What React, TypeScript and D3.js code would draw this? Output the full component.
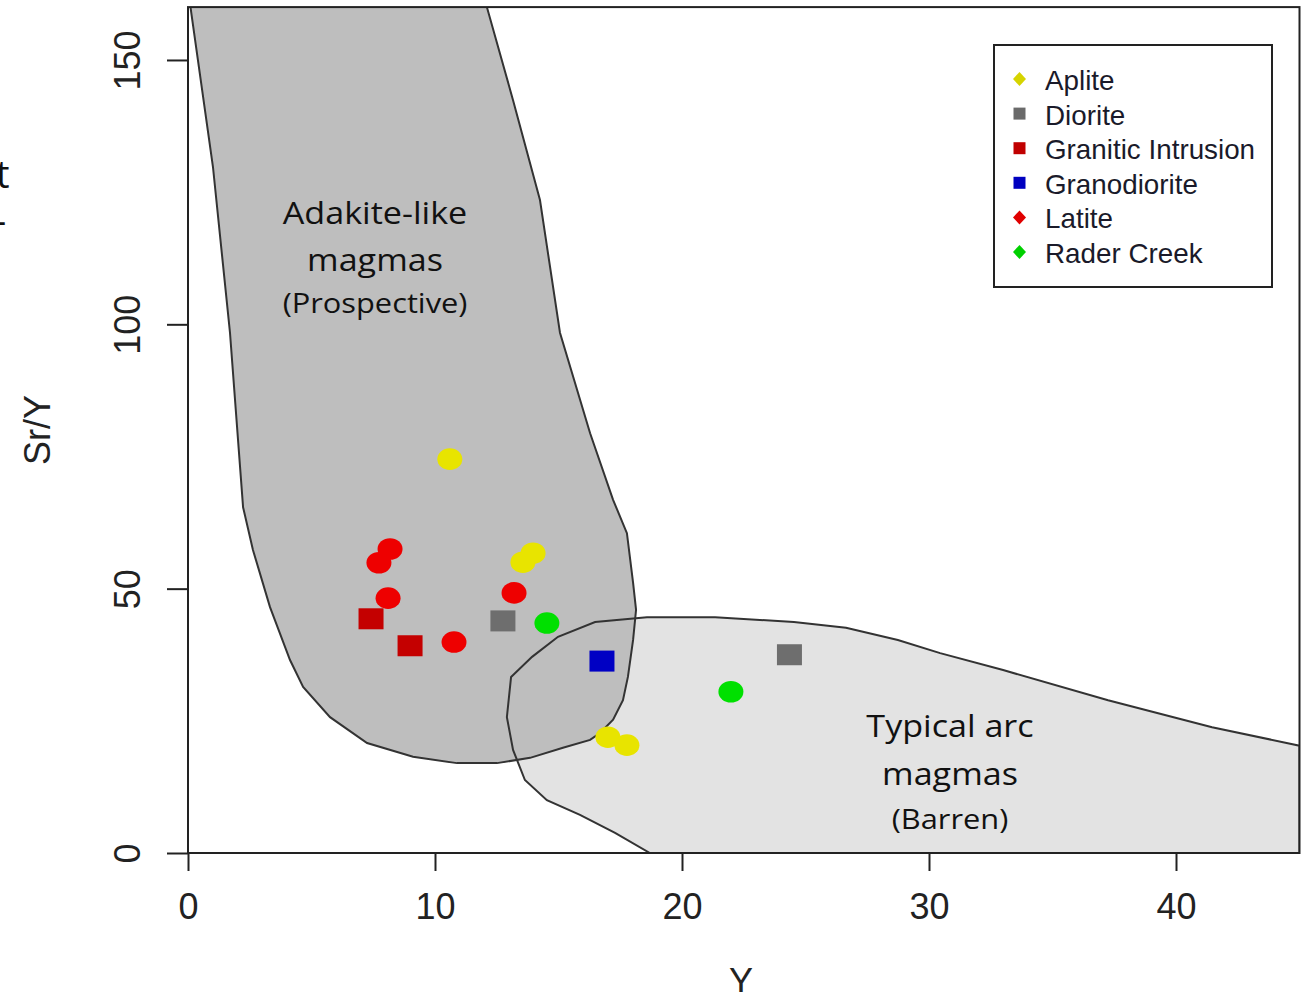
import React, { useEffect, useRef } from 'react';
import * as d3 from 'd3';

// Sr/Y vs Y discrimination diagram
const xTicks = [0, 10, 20, 30, 40];
const yTicks = [0, 50, 100, 150];

// field outlines (Y, Sr/Y)
const adakiteField = [
  [0.1, 160], [12.1, 160], [13.16, 142.4], [14.25, 123.5], [15.06, 98.4], [16.28, 79.4],
  [17.21, 66.8], [17.77, 60.5], [18.02, 51.1], [18.14, 46.0], [18.02, 40.3], [17.81, 33.3],
  [17.61, 28.9], [17.21, 25.2], [16.68, 22.7], [16.28, 21.4], [15.18, 19.9], [13.85, 18.0],
  [12.51, 17.0], [10.89, 17.0], [9.11, 18.2], [7.25, 20.8], [5.75, 25.7], [4.66, 31.4],
  [4.13, 36.5], [3.32, 46.5], [2.63, 57.3], [2.23, 65.4], [1.7, 98.4], [1.01, 129.8],
];
const arcField = [
  [13.08, 33.3], [13.93, 37.1], [14.98, 40.9], [16.48, 43.7], [18.58, 44.6], [21.34, 44.6],
  [24.53, 43.7], [26.64, 42.6], [28.74, 40.3], [30.45, 37.8], [33.0, 34.6], [37.25, 28.9],
  [41.46, 23.8], [45, 20.3], [45, 0], [18.7, 0], [17.29, 3.8], [15.87, 7.2], [14.53, 10.0],
  [13.64, 13.8], [13.16, 19.5], [12.91, 25.7],
];

// samples
const aplite = [[10.6, 74.5], [13.56, 55.0], [13.97, 56.7], [17.0, 21.9], [17.77, 20.4]];
const diorite = [[12.75, 43.9], [24.35, 37.5]];
const granitic = [[7.41, 44.3], [8.99, 39.2]];
const granodiorite = [[16.76, 36.3]];
const latite = [[7.73, 54.9], [8.18, 57.5], [8.1, 48.2], [13.2, 49.2], [10.77, 39.9]];
const raderCreek = [[14.53, 43.5], [21.98, 30.5]];

const series = [
  { name: 'Aplite', data: aplite, color: '#e8e400', legendColor: '#d6d400', shape: 'circle', key: 'diamond' },
  { name: 'Diorite', data: diorite, color: '#6e6e6e', legendColor: '#6a6a6a', shape: 'square', key: 'square' },
  { name: 'Granitic Intrusion', data: granitic, color: '#c40000', legendColor: '#c00000', shape: 'square', key: 'square' },
  { name: 'Granodiorite', data: granodiorite, color: '#0000c4', legendColor: '#0000c0', shape: 'square', key: 'square' },
  { name: 'Latite', data: latite, color: '#ee0000', legendColor: '#e00000', shape: 'circle', key: 'diamond' },
  { name: 'Rader Creek', data: raderCreek, color: '#00e000', legendColor: '#00d000', shape: 'circle', key: 'diamond' },
];

const App = () => {
  const ref = useRef<SVGSVGElement>(null);

  useEffect(() => {
    const svg = d3.select(ref.current);
    svg.selectAll('*').remove();

    const x = d3.scaleLinear().domain([0, 45]).range([188, 1299.5]);
    const y = d3.scaleLinear().domain([0, 160]).range([853, 7.1]);
    const axisFont = '"Liberation Sans", Arial, sans-serif';
    const labelFont = '"Open Sans", sans-serif';

    svg.append('defs').append('clipPath').attr('id', 'plotclip')
      .append('rect')
      .attr('x', x(0)).attr('y', y(160))
      .attr('width', x(45) - x(0)).attr('height', y(0) - y(160));

    const line = d3.line<number[]>().x(d => x(d[0])).y(d => y(d[1])).curve(d3.curveLinearClosed);

    const fields = svg.append('g').attr('clip-path', 'url(#plotclip)');
    fields.append('path').attr('d', line(arcField)).attr('fill', '#e3e3e3');
    fields.append('path').attr('d', line(adakiteField)).attr('fill', '#bebebe');
    fields.append('path').attr('d', line(arcField)).attr('fill', 'none').attr('stroke', '#333').attr('stroke-width', 2);
    fields.append('path').attr('d', line(adakiteField)).attr('fill', 'none').attr('stroke', '#333').attr('stroke-width', 2);

    // region labels (slightly wide, as in the source slide)
    const regionText = (cx: number, lines: [string, number, number][]) => {
      lines.forEach(([t, base, size]) => {
        svg.append('text').attr('transform', `translate(${cx},${base}) scale(1.1,1)`)
          .attr('text-anchor', 'middle').attr('font-family', labelFont)
          .attr('font-size', size).attr('fill', '#111').text(t);
      });
    };
    regionText(375, [['Adakite-like', 224, 31], ['magmas', 271, 31], ['(Prospective)', 313, 28]]);
    regionText(950, [['Typical arc', 737, 31], ['magmas', 785, 31], ['(Barren)', 829, 28]]);

    // points
    const pts = svg.append('g');
    series.forEach(s => {
      s.data.forEach(d => {
        if (s.shape === 'square') {
          pts.append('rect')
            .attr('x', x(d[0]) - 12.5).attr('y', y(d[1]) - 10.5)
            .attr('width', 25).attr('height', 21)
            .attr('fill', s.color);
        } else {
          pts.append('ellipse')
            .attr('cx', x(d[0])).attr('cy', y(d[1]))
            .attr('rx', 12.5).attr('ry', 10.8)
            .attr('fill', s.color);
        }
      });
    });

    // plot box
    svg.append('rect')
      .attr('x', x(0)).attr('y', y(160))
      .attr('width', x(45) - x(0)).attr('height', y(0) - y(160))
      .attr('fill', 'none').attr('stroke', '#222').attr('stroke-width', 2);

    // axes
    const gx = svg.append('g').attr('transform', `translate(0,${y(0)})`)
      .call(d3.axisBottom(x).tickValues(xTicks).tickSize(18).tickPadding(22).tickFormat(d3.format('d')));
    gx.select('.domain').remove();
    gx.selectAll('line').attr('stroke', '#222').attr('stroke-width', 2);
    gx.selectAll('text').attr('font-family', axisFont).attr('font-size', 36).attr('fill', '#222');

    const gy = svg.append('g').attr('transform', `translate(${x(0)},0)`)
      .call(d3.axisLeft(y).tickValues(yTicks).tickSize(21).tickFormat(d3.format('d')));
    gy.select('.domain').remove();
    gy.selectAll('line').attr('stroke', '#222').attr('stroke-width', 2);
    gy.selectAll('text')
      .attr('transform', 'rotate(-90)')
      .attr('x', 0).attr('y', -48).attr('dy', null)
      .attr('text-anchor', 'middle')
      .attr('font-family', axisFont).attr('font-size', 36).attr('fill', '#222');

    svg.append('text').attr('transform', 'translate(50,430) rotate(-90)')
      .attr('text-anchor', 'middle').attr('font-family', axisFont)
      .attr('font-size', 36).attr('fill', '#222').text('Sr/Y');
    svg.append('text').attr('x', 741).attr('y', 994)
      .attr('text-anchor', 'middle').attr('font-family', axisFont)
      .attr('font-size', 36).attr('fill', '#222').text('Y');

    // legend
    const lg = svg.append('g');
    lg.append('rect').attr('x', 994).attr('y', 45).attr('width', 278).attr('height', 242)
      .attr('fill', '#fff').attr('stroke', '#222').attr('stroke-width', 2);
    series.forEach((s, i) => {
      const base = 90 + i * 34.6;
      const cy = base - 11;
      if (s.key === 'square') {
        lg.append('rect').attr('x', 1013.5).attr('y', cy - 6).attr('width', 12).attr('height', 12).attr('fill', s.legendColor);
      } else {
        lg.append('path')
          .attr('d', `M${1019.5},${cy - 7}L${1026},${cy}L${1019.5},${cy + 7}L${1013},${cy}Z`)
          .attr('fill', s.legendColor);
      }
      lg.append('text').attr('transform', `translate(1045,${base}) scale(1.03,1)`)
        .attr('font-family', axisFont).attr('font-size', 27).attr('fill', '#1a1a2a')
        .text(s.name);
    });

    // fragments of neighbouring slide text
    svg.append('text').attr('x', -4).attr('y', 188).attr('font-family', labelFont)
      .attr('font-size', 38).attr('fill', '#111').text('t');
    svg.append('text').attr('x', -6).attr('y', 234).attr('font-family', labelFont)
      .attr('font-size', 38).attr('fill', '#111').text('-');
  }, []);

  return (
    <svg ref={ref} width={1302} height={992}
      style={{ position: 'absolute', left: 0, top: 0, background: '#fff' }} />
  );
};

export default App;
